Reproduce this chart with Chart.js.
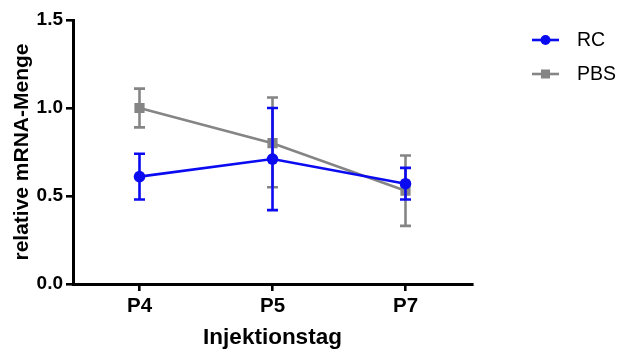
<!DOCTYPE html>
<html>
<head>
<meta charset="utf-8">
<script src="https://cdn.jsdelivr.net/npm/chart.js@4.4.0/dist/chart.umd.min.js"></script>
<style>
  html, body { margin: 0; padding: 0; background: #fff; }
  #wrap { width: 619px; height: 349px; }
</style>
</head>
<body>
<div id="wrap"><canvas id="c" width="619" height="349"></canvas></div>
<script>
// Injection days and relative mRNA amounts (mean with error range)
const days = ['P4', 'P5', 'P7'];
const rcMean  = [0.61, 0.71, 0.57];
const rcUpper = [0.74, 1.00, 0.66];
const rcLower = [0.48, 0.42, 0.48];
const pbsMean  = [1.00, 0.80, 0.53];
const pbsUpper = [1.11, 1.06, 0.73];
const pbsLower = [0.89, 0.55, 0.33];
const yTicks = [0.0, 0.5, 1.0, 1.5];

const FONT = 'Liberation Sans, Arial, sans-serif';
const BLUE = '#0b0bf2';
const GREY = '#858585';

// Vertical error bars with caps, drawn beneath each dataset's line and markers
const errorBars = {
  id: 'errorBars',
  beforeDatasetDraw(chart, args) {
    const ds = chart.data.datasets[args.index];
    if (!ds.upper) return;
    const y = chart.scales.y;
    const ctx = chart.ctx;
    ctx.save();
    ctx.strokeStyle = ds.borderColor;
    ctx.lineWidth = 2.6;
    args.meta.data.forEach((pt, i) => {
      const x = pt.x;
      const yt = y.getPixelForValue(ds.upper[i]);
      const yb = y.getPixelForValue(ds.lower[i]);
      ctx.beginPath();
      ctx.moveTo(x, yt); ctx.lineTo(x, yb);
      ctx.moveTo(x - 5.5, yt); ctx.lineTo(x + 5.5, yt);
      ctx.moveTo(x - 5.5, yb); ctx.lineTo(x + 5.5, yb);
      ctx.stroke();
    });
    ctx.restore();
  }
};

// Legend at the top right: a short line with the series marker, then the name
const sideLegend = {
  id: 'sideLegend',
  afterDraw(chart) {
    const ctx = chart.ctx;
    const x0 = 532, x1 = 559, xm = 545.5, xt = 577;
    const rows = [40, 74];
    chart.data.datasets.forEach((ds, i) => {
      const yy = rows[i];
      ctx.save();
      ctx.strokeStyle = ds.borderColor;
      ctx.fillStyle = ds.borderColor;
      ctx.lineWidth = 2.6;
      ctx.beginPath(); ctx.moveTo(x0, yy); ctx.lineTo(x1, yy); ctx.stroke();
      if (ds.pointStyle === 'rect') {
        ctx.fillRect(xm - 4.5, yy - 4.5, 9, 9);
      } else {
        ctx.beginPath(); ctx.arc(xm, yy, 5, 0, Math.PI * 2); ctx.fill();
      }
      ctx.fillStyle = '#000';
      ctx.font = '19.5px ' + FONT;
      ctx.textBaseline = 'middle';
      ctx.textAlign = 'left';
      ctx.fillText(ds.label, xt, yy + 1);
      ctx.restore();
    });
  }
};

new Chart(document.getElementById('c'), {
  type: 'line',
  data: {
    labels: days,
    datasets: [
      {
        label: 'RC', data: rcMean, upper: rcUpper, lower: rcLower,
        borderColor: BLUE, backgroundColor: BLUE, borderWidth: 2.6,
        pointStyle: 'circle', pointRadius: 5.8, pointBorderWidth: 0,
        pointBackgroundColor: BLUE, tension: 0
      },
      {
        label: 'PBS', data: pbsMean, upper: pbsUpper, lower: pbsLower,
        borderColor: GREY, backgroundColor: GREY, borderWidth: 2.6,
        pointStyle: 'rect', pointRadius: 7.2, pointBorderWidth: 0,
        pointBackgroundColor: GREY, tension: 0
      }
    ]
  },
  options: {
    responsive: false,
    devicePixelRatio: 1,
    animation: false,
    layout: { padding: { top: 20, right: 147, bottom: 0, left: 0 } },
    plugins: {
      legend: { display: false },
      tooltip: { enabled: false }
    },
    scales: {
      x: {
        type: 'category',
        offset: true,
        grid: { display: true, drawOnChartArea: false, drawTicks: true, tickLength: 7, color: '#000', lineWidth: 2.6 },
        border: { display: true, color: '#000', width: 3 },
        ticks: { color: '#000', padding: 3, font: { family: FONT, weight: 'bold', size: 20.5 } },
        title: { display: true, text: 'Injektionstag', color: '#000', padding: { top: 0, bottom: 0 },
                 font: { family: FONT, weight: 'bold', size: 22.5, lineHeight: 1 } },
        afterFit(s) { s.height = 65; }
      },
      y: {
        min: 0, max: 1.5,
        afterBuildTicks(s) { s.ticks = yTicks.map(v => ({ value: v })); },
        grid: { display: true, drawOnChartArea: false, drawTicks: true, tickLength: 7, color: '#000', lineWidth: 2.6 },
        border: { display: true, color: '#000', width: 3 },
        ticks: { color: '#000', padding: 3, font: { family: FONT, weight: 'bold', size: 19 },
                 callback: v => Number(v).toFixed(1) },
        title: { display: true, text: 'relative mRNA-Menge', color: '#000', padding: { top: 12, bottom: 0 },
                 font: { family: FONT, weight: 'bold', size: 21, lineHeight: 1 } },
        afterFit(s) { s.width = 73; }
      }
    }
  },
  plugins: [errorBars, sideLegend]
});
</script>
</body>
</html>
